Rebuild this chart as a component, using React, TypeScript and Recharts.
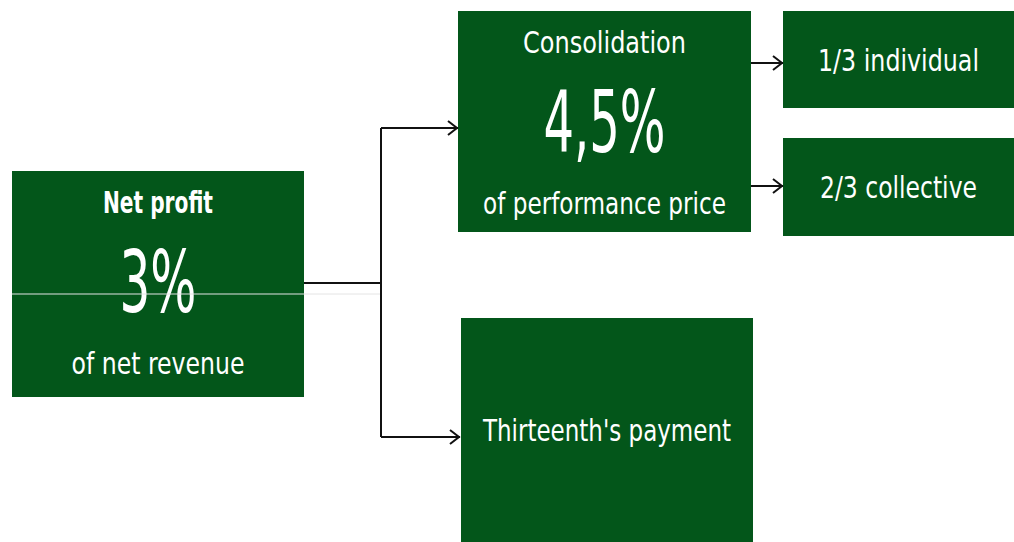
import { ComposedChart, ReferenceArea, ReferenceLine, XAxis, YAxis } from "recharts";

const WIDTH = 1014;
const HEIGHT = 542;
const GREEN = "#03561a";
const FONT = '"Liberation Sans Narrow", "DejaVu Sans Condensed", "Open Sans", sans-serif';

// boxes of the flow diagram, in diagram units (same as pixels)
const boxTitles = ["Net profit", "Consolidation", "1/3 individual", "2/3 collective", "Thirteenth's payment"];
const boxValues = ["3%", "4,5%", "", "", ""];
const boxNotes = ["of net revenue", "of performance price", "", "", ""];
const boxLeft = [12, 458, 783, 783, 461];
const boxRight = [304, 751, 1014, 1014, 753];
const boxTop = [171, 11, 11, 138, 318];
const boxBottom = [397, 232, 108, 236, 560];

// connectors: start point, end point, arrow head or not
const linkFromX = [304, 381, 381, 381, 751, 751];
const linkFromY = [283, 128, 128, 437, 63, 186];
const linkToX = [381, 381, 458, 460, 783, 783];
const linkToY = [283, 437, 128, 437, 63, 186];
const linkArrow = [false, false, true, true, true, true];

// widths the source text was squeezed to
const titleWidths = [110, 163, 161, 157, 248];
const valueWidths = [77, 122];
const noteWidths = [173, 243];

type ShapeProps = { x?: number; y?: number; width?: number; height?: number };

function BoxShape({ x = 0, y = 0, width = 0, height = 0, index }: ShapeProps & { index: number }) {
  const cx = x + width / 2;
  const hasValue = boxValues[index] !== "";
  return (
    <g>
      <rect x={x} y={y} width={width} height={height} fill={GREEN} />
      {hasValue ? (
        <g fill="#fff" fontFamily={FONT} textAnchor="middle" dominantBaseline="central">
          <text
            x={cx}
            y={y + 31}
            fontSize={31}
            fontWeight={index === 0 ? 700 : 400}
            textLength={titleWidths[index]}
            lengthAdjust="spacingAndGlyphs"
          >
            {boxTitles[index]}
          </text>
          <text x={cx} y={y + 111} fontSize={86} textLength={valueWidths[index]} lengthAdjust="spacingAndGlyphs">
            {boxValues[index]}
          </text>
          <text x={cx} y={y + 192} fontSize={31} textLength={noteWidths[index]} lengthAdjust="spacingAndGlyphs">
            {boxNotes[index]}
          </text>
        </g>
      ) : (
        <text
          x={cx}
          y={index === 4 ? 430 : y + height / 2}
          fill="#fff"
          fontFamily={FONT}
          fontSize={31}
          textAnchor="middle"
          dominantBaseline="central"
          textLength={titleWidths[index]}
          lengthAdjust="spacingAndGlyphs"
        >
          {boxTitles[index]}
        </text>
      )}
    </g>
  );
}

function LinkShape(props: any) {
  const { x1, y1, x2, y2, arrow } = props;
  return (
    <g stroke="#111" strokeWidth={2} fill="none">
      <line x1={x1} y1={y1} x2={x2} y2={y2} />
      {arrow && <path d={`M${x2 - 10},${y2 - 7} L${x2 - 1},${y2} L${x2 - 10},${y2 + 7}`} />}
    </g>
  );
}

export default function App() {
  return (
    <div style={{ position: "absolute", left: 0, top: 0, background: "#fff" }}>
      <ComposedChart width={WIDTH} height={HEIGHT} data={[]} margin={{ top: 0, right: 0, bottom: 0, left: 0 }}>
        <XAxis type="number" dataKey="x" domain={[0, WIDTH]} hide allowDataOverflow />
        <YAxis type="number" dataKey="y" domain={[0, HEIGHT]} reversed hide allowDataOverflow />
        {boxTitles.map((title, i) => (
          <ReferenceArea
            key={title}
            x1={boxLeft[i]}
            x2={boxRight[i]}
            y1={boxTop[i]}
            y2={boxBottom[i]}
            ifOverflow="hidden"
            shape={(p: ShapeProps) => <BoxShape {...p} index={i} />}
          />
        ))}
        {/* thin light rule crossing the first box */}
        <ReferenceLine
          segment={[
            { x: 12, y: 294 },
            { x: 382, y: 294 },
          ]}
          stroke="#e4e4e4"
          strokeWidth={1}
        />
        {linkFromX.map((fx, i) => (
          <ReferenceLine
            key={`link-${i}`}
            segment={[
              { x: fx, y: linkFromY[i] },
              { x: linkToX[i], y: linkToY[i] },
            ]}
            shape={(p: any) => <LinkShape {...p} arrow={linkArrow[i]} />}
          />
        ))}
      </ComposedChart>
    </div>
  );
}
